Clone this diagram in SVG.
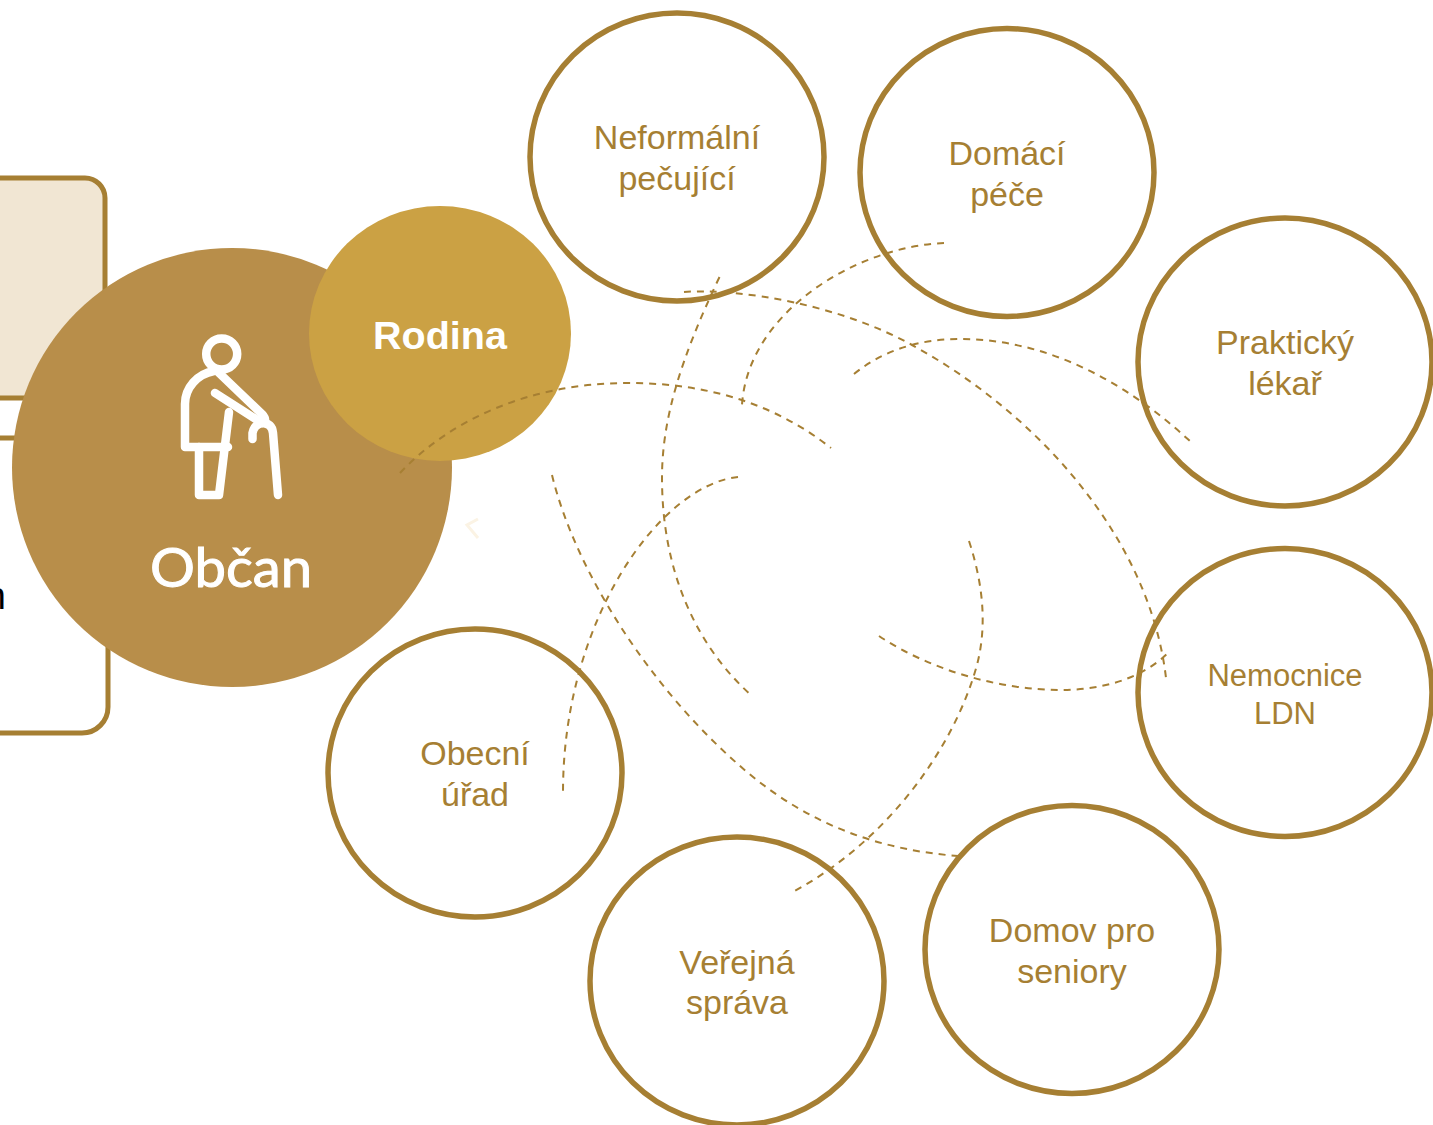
<svg xmlns="http://www.w3.org/2000/svg" width="1433" height="1125" viewBox="0 0 1433 1125">
<style>
.ring{fill:#fff;stroke:#A67F33;stroke-width:5.500}
.lbl{font-family:"Liberation Sans",Arial,sans-serif;font-size:34px;fill:#A67F33;text-anchor:middle}
.dash{fill:none;stroke:#A67F33;stroke-width:2;stroke-dasharray:7 6}
.ico{fill:none;stroke:#fff;stroke-width:8.500;stroke-linecap:round;stroke-linejoin:round}
</style>
<rect width="1433" height="1125" fill="#fff"/>
<g id="panel-top"><rect x="-40" y="178" width="145" height="220" rx="20" fill="#F1E6D3" stroke="#A67F33" stroke-width="5"/></g>
<g id="panel-bottom"><rect x="-40" y="438" width="148" height="295" rx="26" fill="#fff" stroke="#A67F33" stroke-width="5"/>
<text x="6" y="609" font-family="Liberation Sans,Arial,sans-serif" font-size="38" fill="#000" text-anchor="end">n</text></g>
<g id="obcan">
<ellipse cx="232" cy="467.500" rx="220" ry="219.500" fill="#B88E4A"/>
<circle class="ico" cx="221.700" cy="354" r="15.500"/>
<path class="ico" d="M214 371C197 374 185 388 185 404V447H228"/>
<path class="ico" d="M199 447V495H219L229 412"/>
<path class="ico" d="M217 371L262 414Q266 418 265 423"/>
<path class="ico" d="M215 393L262 423"/>
<path class="ico" d="M252.500 439V433Q254 425 262 423Q272 423 273 433L278 495"/>
<text x="231" y="587" font-family="Lato,sans-serif" font-size="55" fill="#fff" stroke="#fff" stroke-width="1" text-anchor="middle" textLength="162" lengthAdjust="spacingAndGlyphs">Občan</text>
</g>
<g id="rodina">
<ellipse cx="440" cy="333.500" rx="131" ry="127.500" fill="#CBA144"/>
<text x="440" y="349" font-family="Liberation Sans,Arial,sans-serif" font-size="39.500" font-weight="700" fill="#fff" text-anchor="middle">Rodina</text>
</g>
<path id="faint-mark" d="M478 519L467 525L478 538" fill="none" stroke="#FBF3E4" stroke-width="3"/>
<g id="n1"><ellipse class="ring" cx="677" cy="157" rx="147" ry="144"/><text class="lbl" x="677" y="149">Neformální</text><text class="lbl" x="677" y="190">pečující</text></g>
<g id="n2"><ellipse class="ring" cx="1007" cy="172.500" rx="147" ry="144"/><text class="lbl" x="1007" y="165">Domácí</text><text class="lbl" x="1007" y="206">péče</text></g>
<g id="n3"><ellipse class="ring" cx="1285" cy="362" rx="147" ry="144"/><text class="lbl" x="1285" y="354">Praktický</text><text class="lbl" x="1285" y="395">lékař</text></g>
<g id="n4"><ellipse class="ring" cx="1285" cy="692.500" rx="147" ry="144"/><text class="lbl" x="1285" y="686" style="font-size:31px">Nemocnice</text><text class="lbl" x="1285" y="724" style="font-size:31px">LDN</text></g>
<g id="n5"><ellipse class="ring" cx="1072" cy="949.500" rx="147" ry="144"/><text class="lbl" x="1072" y="942">Domov pro</text><text class="lbl" x="1072" y="983">seniory</text></g>
<g id="n6"><ellipse class="ring" cx="737" cy="981" rx="147" ry="144"/><text class="lbl" x="737" y="974">Veřejná</text><text class="lbl" x="737" y="1014">správa</text></g>
<g id="n7"><ellipse class="ring" cx="475" cy="773" rx="147" ry="144"/><text class="lbl" x="475" y="765">Obecní</text><text class="lbl" x="475" y="806">úřad</text></g>
<g id="connectors">
<path class="dash" d="M400 473C450 420 530 383 628 383C700 383 770 400 831 448"/>
<path class="dash" d="M719.500 277C680 360 662 420 662 478C662 570 695 645 752 696"/>
<path class="dash" d="M944 243C860 246 748 310 742 405"/>
<path class="dash" d="M684 292C740 288 840 305 912 345C1040 415 1150 540 1166 678"/>
<path class="dash" d="M854 374C890 345 930 339 960 339C1050 339 1130 385 1192 443"/>
<path class="dash" d="M552 475C575 570 650 690 747 772C810 825 880 850 958 856"/>
<path class="dash" d="M738 477C660 485 563 620 563 792"/>
<path class="dash" d="M969 541C985 590 986 630 977 665C955 745 890 840 791 893"/>
<path class="dash" d="M879 636C930 670 1000 690 1060 690C1100 690 1140 680 1168 653"/>
</g>
</svg>
